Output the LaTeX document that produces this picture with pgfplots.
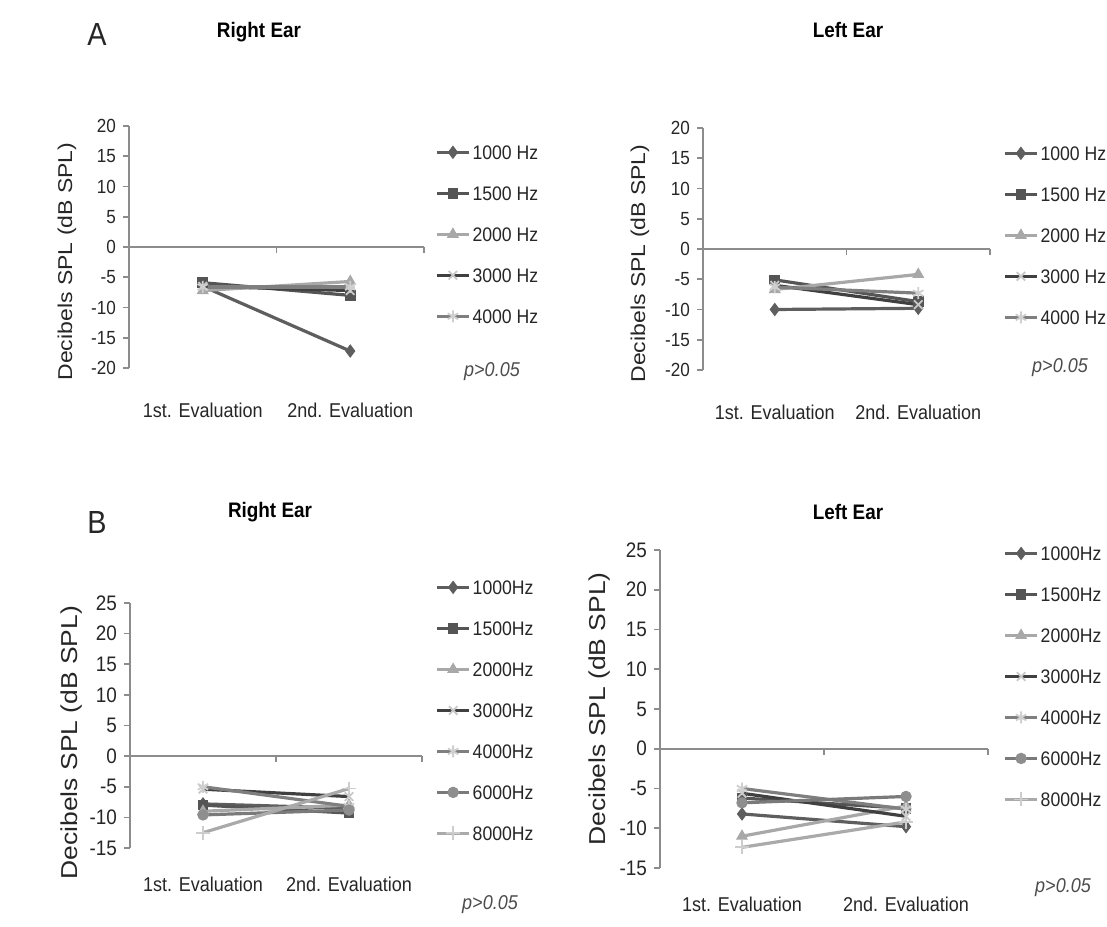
\documentclass[border=0pt]{standalone}
\usepackage{fontspec}
\setmainfont{Liberation Sans}[FakeStretch=0.9]
\newfontfamily\ylabfont{Liberation Sans}[FakeStretch=1.15]
\usepackage{pgfplots}
\pgfplotsset{compat=1.18}

\definecolor{c1000}{HTML}{5E5E5E}
\definecolor{c1500}{HTML}{555555}
\definecolor{c2000}{HTML}{A8A8A8}
\definecolor{c3000}{HTML}{404040}
\definecolor{m3000}{HTML}{C8C8C8}
\definecolor{c4000}{HTML}{7F7F7F}
\definecolor{m4000}{HTML}{CFCFCF}
\definecolor{c6000}{HTML}{7A7A7A}
\definecolor{m6000}{HTML}{8E8E8E}
\definecolor{c8000}{HTML}{AAAAAA}
\definecolor{m8000}{HTML}{CDCDCD}
\definecolor{axgray}{HTML}{8C8C8C}

\pgfplotsset{
  f1000/.style={c1000, mark=diamond*, mark size=3pt, mark options={solid, line width=0.5pt, fill=c1000}},
  f1500/.style={c1500, mark=square*, mark size=2.4pt, mark options={solid, line width=0.5pt, fill=c1500}},
  f2000/.style={c2000, mark=triangle*, mark size=3pt, mark options={solid, line width=0.5pt, fill=c2000}},
  f3000/.style={c3000, mark=x, mark size=3pt, mark options={solid, line width=0.9pt, draw=m3000}},
  f4000/.style={c4000, mark=asterisk, mark size=3pt, mark options={solid, line width=0.9pt, draw=m4000}},
  f6000/.style={c6000, mark=*, mark size=2.6pt, mark options={solid, line width=0.5pt, draw=m6000, fill=m6000}},
  f8000/.style={c8000, mark=+, mark size=3.5pt, mark options={solid, line width=0.9pt, draw=m8000}},
  ear/.style={
    scale only axis,
    anchor=south west,
    xmin=0.5, xmax=2.5,
    xtick={1,2},
    xticklabels={1st. Evaluation, 2nd. Evaluation},
    axis x line*=bottom, axis y line*=left,
    axis line style={-},
    x axis line style={draw=none},
    y axis line style={draw=axgray, line width=0.8pt},
    xtick style={draw=none},
    ytick style={draw=axgray, line width=0.8pt},
    tick align=outside,
    major tick length=3pt,
    /pgf/number format/assume math mode=true,
    yticklabel style={font=\fontsize{9.5}{10}\selectfont, text=black!85},
    xticklabel style={font=\fontsize{10}{11}\selectfont, text=black!85, yshift=-11pt},
    ylabel={Decibels SPL (dB SPL)},
    ylabel style={font=\ylabfont\fontsize{10}{12}\selectfont, text=black!85, anchor=center},
    every axis plot/.append style={line width=1.6pt},
    clip=false,
    legend cell align=left,
    legend image code/.code={\draw[mark repeat=2,mark phase=2]
      plot coordinates {(0pt,0pt) (8pt,0pt) (16pt,0pt)};},
    legend style={draw=none, fill=none, inner sep=0pt, anchor=north west,
      row sep=13pt, column sep=1pt,
      nodes={inner sep=0pt, text height=7.5pt, text depth=0pt,
        font=\fontsize{9.8}{12}\selectfont, text=black!85}},
  },
}

\newcommand{\zeroline}{%
  \draw[axgray, line width=0.8pt] (axis cs:0.5,0) -- (axis cs:2.5,0);
  \draw[axgray, line width=0.8pt] (axis cs:1.5,0) -- ++(0pt,-3pt);
  \draw[axgray, line width=0.8pt] (axis cs:2.5,0) -- ++(0pt,-3pt);}

\begin{document}
\begin{tikzpicture}
\useasboundingbox (0,0) rectangle (553.5pt,463pt);

% ---------- A, right ear ----------
\begin{axis}[ear, at={(64.5pt,279pt)}, width=147.5pt, height=121pt,
  ymin=-20, ymax=20, ytick={-20,-15,...,20},
  ylabel style={at={(axis description cs:-0.21,0.44)}},
  legend style={at={(1.037,0.924)}}]
\zeroline
\addplot[f1000] coordinates {(1,-6.5) (2,-17.2)};
\addplot[f1500] coordinates {(1,-5.9) (2,-8.0)};
\addplot[f2000] coordinates {(1,-7.2) (2,-5.7)};
\addplot[f3000] coordinates {(1,-6.5) (2,-7.2)};
\addplot[f4000] coordinates {(1,-6.6) (2,-6.6)};
\legend{1000 Hz, 1500 Hz, 2000 Hz, 3000 Hz, 4000 Hz}
\end{axis}

% ---------- A, left ear ----------
\begin{axis}[ear, at={(351.5pt,278pt)}, width=143.5pt, height=121pt,
  ymin=-20, ymax=20, ytick={-20,-15,...,20},
  ylabel style={at={(axis description cs:-0.22,0.44)}},
  legend style={at={(1.045,0.928)}}]
\zeroline
\addplot[f1000] coordinates {(1,-10.0) (2,-9.8)};
\addplot[f1500] coordinates {(1,-5.1) (2,-8.7)};
\addplot[f2000] coordinates {(1,-6.7) (2,-4.2)};
\addplot[f3000] coordinates {(1,-6.0) (2,-9.2)};
\addplot[f4000] coordinates {(1,-6.3) (2,-7.3)};
\legend{1000 Hz, 1500 Hz, 2000 Hz, 3000 Hz, 4000 Hz}
\end{axis}

% ---------- B, right ear ----------
\begin{axis}[ear, at={(65pt,39pt)}, width=146pt, height=122.5pt,
  ymin=-15, ymax=25, ytick={-15,-10,...,25},
  yticklabel style={font=\fontsize{10.5}{12}\selectfont},
  xticklabel style={yshift=3pt},
  ylabel style={font=\ylabfont\fontsize{11.5}{13}\selectfont, at={(axis description cs:-0.2,0.43)}},
  legend style={at={(1.045,1.096)}}]
\zeroline
\addplot[f1000] coordinates {(1,-7.8) (2,-8.5)};
\addplot[f1500] coordinates {(1,-8.0) (2,-9.3)};
\addplot[f2000] coordinates {(1,-9.0) (2,-8.0)};
\addplot[f3000] coordinates {(1,-5.4) (2,-6.6)};
\addplot[f4000] coordinates {(1,-5.0) (2,-8.2)};
\addplot[f6000] coordinates {(1,-9.6) (2,-8.8)};
\addplot[f8000] coordinates {(1,-12.5) (2,-5.3)};
\legend{1000Hz, 1500Hz, 2000Hz, 3000Hz, 4000Hz, 6000Hz, 8000Hz}
\end{axis}

% ---------- B, left ear ----------
\begin{axis}[ear, at={(330pt,29pt)}, width=164pt, height=159pt,
  ymin=-15, ymax=25, ytick={-15,-10,...,25},
  yticklabel style={font=\fontsize{10.5}{12}\selectfont},
  xticklabel style={yshift=3pt},
  ylabel style={font=\ylabfont\fontsize{11.5}{13}\selectfont, at={(axis description cs:-0.185,0.5)}},
  legend style={at={(1.046,1.014)}}]
\zeroline
\addplot[f1000] coordinates {(1,-8.2) (2,-9.8)};
\addplot[f1500] coordinates {(1,-6.2) (2,-7.5)};
\addplot[f2000] coordinates {(1,-11.0) (2,-7.2)};
\addplot[f3000] coordinates {(1,-5.6) (2,-8.5)};
\addplot[f4000] coordinates {(1,-5.0) (2,-7.6)};
\addplot[f6000] coordinates {(1,-6.8) (2,-6.0)};
\addplot[f8000] coordinates {(1,-12.4) (2,-9.2)};
\legend{1000Hz, 1500Hz, 2000Hz, 3000Hz, 4000Hz, 6000Hz, 8000Hz}
\end{axis}

% ---------- titles and notes ----------
\node[font=\fontsize{16}{18}\selectfont, text=black!85] at (48.5pt,445.5pt) {A};
\node[font=\fontsize{16}{18}\selectfont, text=black!85] at (48.5pt,202pt) {B};
\node[font=\bfseries\fontsize{10.5}{12}\selectfont] at (129.5pt,447pt) {Right Ear};
\node[font=\bfseries\fontsize{10.5}{12}\selectfont] at (424pt,448pt) {Left Ear};
\node[font=\bfseries\fontsize{10.5}{12}\selectfont] at (135pt,207pt) {Right Ear};
\node[font=\bfseries\fontsize{10.5}{12}\selectfont] at (424pt,207pt) {Left Ear};
\node[font=\itshape\fontsize{10}{12}\selectfont, text=black!70] at (246pt,277pt) {p>0.05};
\node[font=\itshape\fontsize{10}{12}\selectfont, text=black!70] at (530pt,279pt) {p>0.05};
\node[font=\itshape\fontsize{10}{12}\selectfont, text=black!70] at (245pt,10.5pt) {p>0.05};
\node[font=\itshape\fontsize{10}{12}\selectfont, text=black!70] at (531.5pt,19pt) {p>0.05};
\end{tikzpicture}
\end{document}
